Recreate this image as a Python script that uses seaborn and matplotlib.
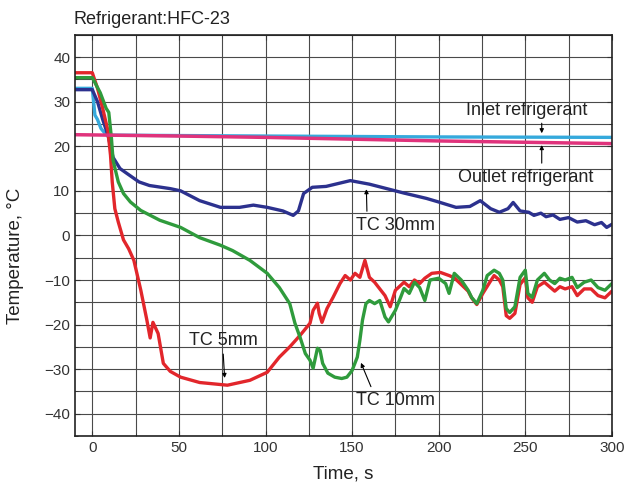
import warnings
warnings.filterwarnings('ignore')

import matplotlib
matplotlib.use('Agg')
import matplotlib.pyplot as plt
import pandas as pd
import seaborn as sns
from matplotlib.ticker import MultipleLocator

sns.set_style('ticks')
plt.rcParams['font.family'] = ['Liberation Sans', 'DejaVu Sans']

# 读出来的曲线数据 (时间 s, 温度 °C)
tc5_t = [-10, 0, 3, 6, 9, 10.5, 11.5, 13, 15, 18, 21, 24, 28, 31.5, 33.4, 35, 38, 41, 45,
         51, 62, 78, 91, 101, 108, 114, 120, 125.7, 127.5, 130, 131, 132.6, 135.5, 139,
         143, 146, 149, 151.7, 154.5, 157.4, 160, 163, 166, 169, 172, 175, 180, 183, 186,
         189, 192, 196, 201, 206, 209, 213, 217, 219, 222, 225.5, 229.5, 232, 235, 237,
         239, 241, 244, 247, 250, 251.5, 254, 257, 261, 264, 267, 270, 273, 277, 280,
         284, 288, 292, 296, 300]
tc5_v = [36.5, 36.5, 33, 28.5, 23.5, 18, 12, 6, 3, -1, -3, -5.6, -12.3, -19, -23, -19.5,
         -22, -28.7, -30.5, -31.8, -33, -33.6, -32.5, -30.7, -27.3, -25, -22.4, -19.7,
         -16.8, -15.2, -17.5, -19.5, -16.4, -13.9, -10.8, -9, -10, -8.5, -9.4, -5.6, -9.4,
         -10.5, -12, -13.5, -16, -12.3, -10.5, -11.5, -10, -10.8, -9.6, -8.5, -8.3, -9,
         -9.5, -11, -12.5, -14, -15.5, -13, -10.5, -9, -10, -11.5, -18, -18.6, -17.5, -11,
         -9.5, -14, -15, -11.5, -10.5, -11.5, -12.5, -11.5, -12, -11.5, -13.5, -12, -12,
         -13.5, -14, -12.5]

tc10_t = [-10, 0, 4.6, 8, 9.5, 11, 12, 15, 18, 22, 28, 39, 51, 62, 74, 81, 91, 101, 108,
          114, 117, 120, 123, 125.7, 127.5, 130, 131.5, 133, 136, 140, 144, 147, 150, 153,
          154.5, 156, 158, 160, 163, 166, 169, 171, 175, 178, 180, 183, 186, 189, 192, 195,
          200, 204, 206, 209, 213, 217, 219, 222, 225.5, 228, 232, 235, 237, 239, 241, 244,
          247, 250, 251.5, 254, 257, 261, 264, 267, 270, 273, 277, 280, 284, 288, 292, 296,
          300]
tc10_v = [35.4, 35.4, 32, 28.5, 27.6, 22, 16.8, 12, 9.4, 7.5, 5.6, 3.4, 1.8, -0.5, -2.2,
          -3.4, -5.6, -8.5, -11.7, -15.3, -19.7, -22.9, -26.5, -28, -29.8, -25.3, -25.8,
          -28.7, -30.9, -31.8, -32.1, -31.8, -30.3, -27.3, -23.5, -19, -15.3, -14.6, -15.3,
          -14.6, -18.3, -19.4, -16.8, -13.9, -11.9, -13, -10.5, -11.7, -14.6, -10, -9.6,
          -10.8, -13, -8.5, -10, -12.3, -13.9, -15.3, -12.3, -9, -7.8, -8.5, -10, -16.4,
          -17.3, -16, -9.4, -7.8, -13, -13.9, -10, -8.5, -10, -10.8, -9.6, -10, -9.4, -11.7,
          -10.5, -10, -11.7, -12.3, -10.8]

tc30_t = [-10, 0, 3, 6, 9, 12, 16, 20, 27, 33, 45, 51, 62, 74, 85, 93, 101, 110, 116, 119,
          122, 127, 135, 149, 160, 170, 180, 193, 200, 210, 218, 224, 230, 235, 240, 243,
          247, 252, 255, 259, 262, 266, 270, 275, 280, 285, 290, 294, 297, 300]
tc30_v = [32.7, 32.7, 30, 26, 22.5, 17.5, 15, 13.9, 12, 11.2, 10.5, 10, 7.8, 6.3, 6.3, 6.8,
          6.3, 5.5, 4.5, 5.5, 9.4, 10.8, 11, 12.3, 11.5, 10.5, 9.5, 8.3, 7.5, 6.3, 6.5, 7.8,
          6, 5.2, 6, 7.4, 5.5, 5.2, 4.5, 5.0, 4.2, 4.6, 3.6, 4.0, 3.0, 3.3, 2.4, 2.9, 1.8, 2.5]

inlet_t = [-10, 0, 1.5, 3, 5, 8, 10, 100, 150, 200, 300]
inlet_v = [33, 33, 27, 26, 24, 22.6, 22.5, 22.3, 22.2, 22.1, 22.0]

outlet_t = [-10, 50, 100, 150, 200, 250, 300]
outlet_v = [22.6, 22.3, 22.0, 21.6, 21.2, 20.9, 20.6]

series = [
    ('inlet', inlet_t, inlet_v, '#35a9dc', 2.4),
    ('tc30', tc30_t, tc30_v, '#2c318e', 2.4),
    ('tc5', tc5_t, tc5_v, '#e2262b', 2.4),
    ('tc10', tc10_t, tc10_v, '#2f9b3c', 2.4),
    ('outlet', outlet_t, outlet_v, '#e0337c', 2.5),
]

fig = plt.figure(figsize=(6.25, 4.91), dpi=100)
ax = fig.add_axes([0.12, 0.112, 0.859, 0.817])

for name, t, v, c, lw in series:
    df = pd.DataFrame({'t': t, 'v': v})
    sns.lineplot(data=df, x='t', y='v', color=c, linewidth=lw, ax=ax,
                 estimator=None, sort=False)

ax.set_xlim(-10, 300)
ax.set_ylim(-45, 45)
ax.xaxis.set_major_locator(MultipleLocator(50))
ax.xaxis.set_minor_locator(MultipleLocator(25))
ax.yaxis.set_major_locator(MultipleLocator(10))
ax.yaxis.set_minor_locator(MultipleLocator(5))
ax.grid(True, which='both', color='#4a4a4a', linewidth=0.8)
ax.set_axisbelow(True)
ax.tick_params(which='both', direction='in', top=True, right=True, labelsize=11,
               colors='#333333', labelcolor='#333333')
for s in ax.spines.values():
    s.set_linewidth(1.2)
    s.set_color('#222222')

ax.set_xlabel('Time, s', fontsize=13.5, color='#222222', labelpad=8)
ax.set_ylabel('Temperature, °C', fontsize=13.5, color='#222222')
ax.yaxis.set_label_coords(-0.095, 0.45)
fig.text(0.118, 0.96, 'Refrigerant:HFC-23', fontsize=13, color='#222222', va='center')

# 标注
arrow = dict(arrowstyle='-|>', color='black', lw=0.8, mutation_scale=6)
notes = [
    ('Inlet refrigerant', (251, 28), (259.5, 25.8), (259.5, 22.3)),
    ('Outlet refrigerant', (250, 13), (259.5, 15.6), (259.5, 20.9)),
    ('TC 30mm', (175, 2.2), (158.6, 4.8), (158.2, 11.0)),
    ('TC 5mm', (75.5, -23.5), (75.5, -26), (76.5, -32.6)),
    ('TC 10mm', (175, -37), (161.5, -34.5), (154.5, -28)),
]
for txt, pos, a0, a1 in notes:
    ax.text(pos[0], pos[1], txt, fontsize=13, ha='center', va='center', color='#222222')
    ax.annotate('', xy=a1, xytext=a0, arrowprops=arrow)

fig.savefig('out.png', dpi=100)
